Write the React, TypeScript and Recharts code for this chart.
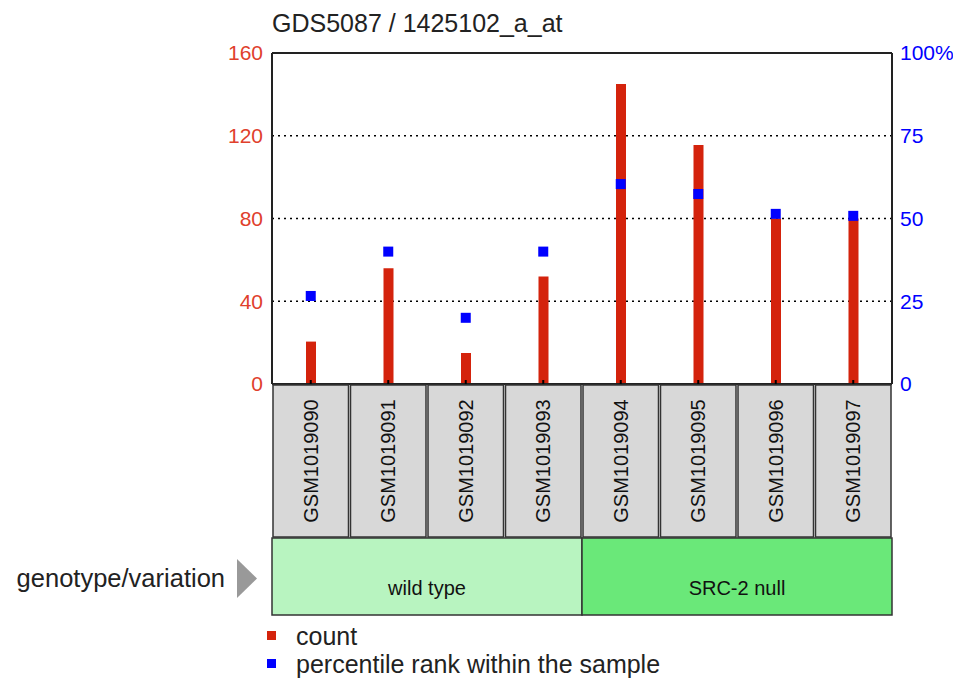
import React from "react";
import {
  ComposedChart,
  Bar,
  Line,
  XAxis,
  YAxis,
  CartesianGrid,
  ReferenceLine,
  Legend,
} from "recharts";

const samples = [
  "GSM1019090",
  "GSM1019091",
  "GSM1019092",
  "GSM1019093",
  "GSM1019094",
  "GSM1019095",
  "GSM1019096",
  "GSM1019097",
];
const counts = [20.5, 56, 15, 52, 145, 115.5, 80, 80];
const percentiles = [26.6, 40, 20, 40, 60.4, 57.4, 51.4, 50.8];
const leftTicks = [0, 40, 80, 120, 160];
const rightTicks = [0, 25, 50, 75, 100];
const groups = [
  { name: "wild type", size: 4, color: "#b8f4c0" },
  { name: "SRC-2 null", size: 4, color: "#6ae879" },
];
const title = "GDS5087 / 1425102_a_at";
const groupLabel = "genotype/variation";
const legendItems = [
  { label: "count", color: "#d4230c" },
  { label: "percentile rank within the sample", color: "#0000ff" },
];

const data = samples.map((s, i) => ({
  sample: s,
  count: counts[i],
  pct: percentiles[i],
}));

const W = 953;
const H = 678;
const LEFT_W = 272;
const RIGHT_W = 61;
const TOP = 53;
const XAXIS_H = 294;
const PLOT_W = W - LEFT_W - RIGHT_W;
const BAND = PLOT_W / samples.length;
const FONT = "'Liberation Sans', Arial, sans-serif";

const groupStart: Record<number, (typeof groups)[number]> = {};
{
  let idx = 0;
  groups.forEach((g) => {
    groupStart[idx] = g;
    idx += g.size;
  });
}

const SampleTick = (props: any) => {
  const { x, y, payload, index } = props;
  const left = x - BAND / 2;
  const boxTop = y + 1;
  const boxH = 152;
  const g = groupStart[index];
  return (
    <g>
      <line x1={x} y1={y - 4} x2={x} y2={y} stroke="#000" strokeWidth={2} />
      <rect
        x={left + 1}
        y={boxTop}
        width={BAND - 2}
        height={boxH}
        fill="#d8d8d8"
        stroke="#333"
        strokeWidth={1.5}
      />
      <text
        transform={`translate(${x + 7},${boxTop + boxH / 2}) rotate(-90)`}
        textAnchor="middle"
        fontFamily={FONT}
        fontSize={20}
        fill="#111"
      >
        {payload.value}
      </text>
      {g && (
        <g>
          <rect
            x={left}
            y={boxTop + boxH + 1}
            width={BAND * g.size}
            height={77}
            fill={g.color}
            stroke="#333"
            strokeWidth={1.5}
          />
          <text
            x={left + (BAND * g.size) / 2}
            y={boxTop + boxH + 58}
            textAnchor="middle"
            fontFamily={FONT}
            fontSize={20}
            fill="#111"
          >
            {g.name}
          </text>
        </g>
      )}
      {index === 0 && (
        <g>
          <text
            x={left - 47}
            y={587}
            textAnchor="end"
            fontFamily={FONT}
            fontSize={25.5}
            fill="#222"
          >
            {groupLabel}
          </text>
          <polygon
            points={`${left - 35},559 ${left - 35},598 ${left - 15},578.5`}
            fill="#999"
          />
        </g>
      )}
    </g>
  );
};

const PctSquare = (props: any) => {
  const { cx, cy } = props;
  if (cx == null || cy == null) return null;
  return <rect x={cx - 5} y={cy - 5} width={10} height={10} fill="#0000ff" />;
};

const LegendContent = () => (
  <svg width={440} height={58}>
    {legendItems.map((it, i) => (
      <g key={it.label}>
        <rect x={5} y={11 + i * 28} width={9} height={9} fill={it.color} />
        <text
          x={34}
          y={25 + i * 28}
          fontFamily={FONT}
          fontSize={25}
          fill="#222"
        >
          {it.label}
        </text>
      </g>
    ))}
  </svg>
);

export default function App() {
  return (
    <div style={{ position: "relative", width: W, height: H }}>
      <style>{`body{margin:0}`}</style>
      <ComposedChart
        width={W}
        height={H}
        data={data}
        margin={{ top: TOP, right: 0, bottom: 0, left: 0 }}
      >
        <text x={272} y={32} fontFamily={FONT} fontSize={25} fill="#222">
          {title}
        </text>
        <CartesianGrid
          yAxisId="left"
          vertical={false}
          stroke="#000"
          strokeDasharray="2 4"
          strokeWidth={1.5}
        />
        <XAxis
          dataKey="sample"
          height={XAXIS_H}
          interval={0}
          tickSize={0}
          tickMargin={0}
          tickLine={false}
          axisLine={{ stroke: "#222", strokeWidth: 2 }}
          tick={<SampleTick />}
        />
        <YAxis
          yAxisId="left"
          orientation="left"
          width={LEFT_W}
          domain={[0, 160]}
          ticks={leftTicks}
          interval={0}
          tickSize={0}
          tickMargin={9}
          tickLine={false}
          axisLine={{ stroke: "#222", strokeWidth: 2 }}
          tick={{ fill: "#e0402c", fontSize: 21, fontFamily: FONT }}
        />
        <YAxis
          yAxisId="right"
          orientation="right"
          width={RIGHT_W}
          domain={[0, 100]}
          ticks={rightTicks}
          interval={0}
          tickSize={0}
          tickMargin={8}
          tickLine={false}
          axisLine={{ stroke: "#222", strokeWidth: 2 }}
          tickFormatter={(v: number) => (v === 100 ? "100%" : String(v))}
          tick={{ fill: "#0000ff", fontSize: 21, fontFamily: FONT }}
        />
        <ReferenceLine yAxisId="left" y={160} stroke="#222" strokeWidth={2} />
        <Bar
          yAxisId="left"
          dataKey="count"
          fill="#d4230c"
          barSize={10}
          isAnimationActive={false}
        />
        <Line
          yAxisId="right"
          dataKey="pct"
          stroke="none"
          dot={<PctSquare />}
          activeDot={false}
          isAnimationActive={false}
        />
        <Legend
          layout="vertical"
          align="center"
          verticalAlign="middle"
          content={<LegendContent />}
          wrapperStyle={{ position: "absolute", left: 262, top: 620, width: 440 }}
        />
      </ComposedChart>
    </div>
  );
}
